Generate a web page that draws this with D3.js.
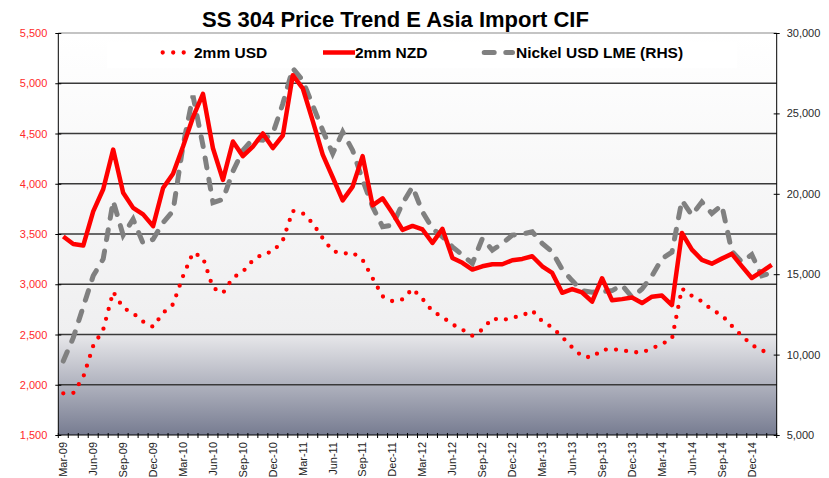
<!DOCTYPE html>
<html>
<head>
<meta charset="utf-8">
<script src="https://cdn.jsdelivr.net/npm/d3@7"></script>
<style>
  body { margin: 0; background: #fff; }
  svg { font-family: "Liberation Sans", Arial, sans-serif; }
  .axis path { display: none; }
</style>
</head>
<body>
<div class="chart"></div>
<script>
// categories (monthly, Mar-09 .. Feb-15)
const months = [
  'Mar-09','Apr-09','May-09','Jun-09','Jul-09','Aug-09','Sep-09','Oct-09','Nov-09','Dec-09',
  'Jan-10','Feb-10','Mar-10','Apr-10','May-10','Jun-10','Jul-10','Aug-10','Sep-10','Oct-10','Nov-10','Dec-10',
  'Jan-11','Feb-11','Mar-11','Apr-11','May-11','Jun-11','Jul-11','Aug-11','Sep-11','Oct-11','Nov-11','Dec-11',
  'Jan-12','Feb-12','Mar-12','Apr-12','May-12','Jun-12','Jul-12','Aug-12','Sep-12','Oct-12','Nov-12','Dec-12',
  'Jan-13','Feb-13','Mar-13','Apr-13','May-13','Jun-13','Jul-13','Aug-13','Sep-13','Oct-13','Nov-13','Dec-13',
  'Jan-14','Feb-14','Mar-14','Apr-14','May-14','Jun-14','Jul-14','Aug-14','Sep-14','Oct-14','Nov-14','Dec-14',
  'Jan-15','Feb-15'
]

// 2mm USD (left axis)
const usd = [
  1915, 1918, 2075, 2387, 2548, 2925, 2765, 2712, 2628, 2576,
  2715, 2800, 3080, 3315, 3265, 2965, 2912, 3065, 3125, 3238, 3302, 3325,
  3435, 3730, 3706, 3607, 3458, 3330, 3305, 3315, 3242, 3060, 2880, 2831,
  2850, 2955, 2854, 2731, 2674, 2601, 2548, 2488, 2548, 2661, 2641, 2668,
  2688, 2738, 2631, 2571, 2475, 2372, 2282, 2272, 2348, 2354, 2344, 2325,
  2321, 2361, 2407, 2454, 2957, 2885, 2830, 2745, 2692, 2586, 2487, 2397,
  2338, 2325
]

// 2mm NZD (left axis)
const nzd = [
  3475, 3400, 3385, 3725, 3945, 4340, 3910, 3760, 3695, 3578,
  3958, 4100, 4370, 4662, 4895, 4353, 4038, 4420, 4275, 4370, 4500, 4355,
  4480, 5080, 4950, 4625, 4290, 4065, 3835, 3972, 4275, 3785, 3855, 3706,
  3541, 3580, 3545, 3412, 3551, 3262, 3213, 3146, 3179, 3199, 3199, 3239,
  3252, 3279, 3179, 3113, 2915, 2952, 2918, 2827, 3060, 2840, 2852, 2868,
  2813, 2876, 2888, 2793, 3510, 3345, 3243, 3205, 3255, 3302, 3180, 3062,
  3125, 3192
]

// Nickel USD LME (right axis)
const nickel = [
  9600, 11050, 12980, 14900, 15950, 19550, 17430, 18420, 16920, 17170,
  18210, 18930, 23000, 26100, 23000, 19450, 19650, 21400, 22700, 23400, 23340, 23750,
  25600, 27800, 27050, 25500, 23950, 22500, 23850, 22700, 20850, 19200, 17950, 18050,
  19400, 20440, 18880, 17840, 17330, 16700, 16190, 15670, 17220, 16500, 16910, 17430,
  17490, 17640, 16910, 16390, 15300, 14600, 13980, 13880, 13920, 13980, 14320, 13570,
  14080, 14900, 15960, 16370, 19590, 18670, 19490, 18780, 19290, 16430, 15760, 16220,
  14900, 15100
]

const leftTicks = [1500, 2000, 2500, 3000, 3500, 4000, 4500, 5000, 5500]
const rightTicks = [5000, 10000, 15000, 20000, 25000, 30000]
const labelMonths = months.filter((d, i) => i % 3 === 0)

const width = 829
const height = 478
const margins = { top: 33, right: 52.3, bottom: 43, left: 58.3 }

const svg = d3.select('.chart')
  .append('svg')
  .attr('width', width)
  .attr('height', height)

const x = d3.scaleBand()
  .domain(months)
  .range([margins.left, width - margins.right])

const yL = d3.scaleLinear()
  .domain([1500, 5500])
  .range([height - margins.bottom, margins.top])

const yR = d3.scaleLinear()
  .domain([5000, 30000])
  .range([height - margins.bottom, margins.top])

const x0 = margins.left
const x1 = width - margins.right
const cx = (d) => x(d) + x.bandwidth() / 2

// background gradient
const defs = svg.append('defs')
const grad = defs.append('linearGradient')
  .attr('id', 'bg')
  .attr('x1', 0).attr('y1', 0).attr('x2', 0).attr('y2', 1)
const split = (yL(2500) - yL(5500)) / (yL(1500) - yL(5500))
grad.append('stop').attr('offset', 0).attr('stop-color', '#ffffff')
grad.append('stop').attr('offset', split).attr('stop-color', '#efeff0')
grad.append('stop').attr('offset', split + 0.002).attr('stop-color', '#e7e7ea')
grad.append('stop').attr('offset', 1).attr('stop-color', '#777c91')

svg.append('rect')
  .attr('x', x0)
  .attr('y', yL(5500))
  .attr('width', x1 - x0)
  .attr('height', yL(1500) - yL(5500))
  .attr('fill', 'url(#bg)')

// legend backdrop
svg.append('rect')
  .attr('x', 107).attr('y', 42)
  .attr('width', 630).attr('height', 26)
  .attr('fill', '#ffffff')

// gridlines
svg.append('g')
  .selectAll('line')
  .data(leftTicks.slice(1, -1))
  .join('line')
  .attr('x1', x0).attr('x2', x1)
  .attr('y1', d => yL(d)).attr('y2', d => yL(d))
  .attr('stroke', '#3a3a3a')
  .attr('stroke-width', 1.3)

svg.append('line')
  .attr('x1', x0).attr('x2', x1)
  .attr('y1', yL(5500)).attr('y2', yL(5500))
  .attr('stroke', '#b0b0b0')
  .attr('stroke-width', 1.3)

// left axis
svg.append('g')
  .attr('class', 'axis axis__left')
  .attr('transform', `translate(${x0}, 0)`)
  .call(
    d3.axisLeft(yL)
      .tickValues(leftTicks)
      .tickSize(3)
      .tickPadding(8)
      .tickFormat(d3.format(','))
  )
  .call(g => g.selectAll('line').attr('x2', -3).attr('x1', 3).attr('stroke', '#000'))
  .call(g => g.selectAll('text').attr('fill', '#ff2b2b').style('font-size', '11px'))

// right axis
svg.append('g')
  .attr('class', 'axis axis__right')
  .attr('transform', `translate(${x1}, 0)`)
  .call(
    d3.axisRight(yR)
      .tickValues(rightTicks)
      .tickSize(3)
      .tickPadding(7)
      .tickFormat(d3.format(','))
  )
  .call(g => g.selectAll('line').attr('x1', -3).attr('x2', 3).attr('stroke', '#000'))
  .call(g => g.selectAll('text').attr('fill', '#2a2a2a').style('font-size', '11px'))

// axis lines
svg.append('line')
  .attr('x1', x0).attr('x2', x0)
  .attr('y1', yL(5500)).attr('y2', yL(1500))
  .attr('stroke', '#000')
svg.append('line')
  .attr('x1', x1).attr('x2', x1)
  .attr('y1', yL(5500)).attr('y2', yL(1500))
  .attr('stroke', '#000')
svg.append('line')
  .attr('x1', x0).attr('x2', x1)
  .attr('y1', yL(1500)).attr('y2', yL(1500))
  .attr('stroke', '#000')

// month tick marks at category boundaries
svg.append('g')
  .selectAll('line')
  .data(months.map(d => x(d)).concat([x1]))
  .join('line')
  .attr('x1', d => d).attr('x2', d => d)
  .attr('y1', yL(1500) - 2).attr('y2', yL(1500) + 3)
  .attr('stroke', '#000')

// month labels
svg.append('g')
  .attr('class', 'axis axis__x')
  .attr('transform', `translate(0, ${yL(1500)})`)
  .call(
    d3.axisBottom(x)
      .tickValues(labelMonths)
      .tickSize(0)
  )
  .call(g => g.selectAll('text')
    .attr('transform', 'rotate(-90)')
    .attr('text-anchor', 'end')
    .attr('x', -7)
    .attr('y', 0)
    .attr('dy', '0.35em')
    .attr('fill', '#222')
    .style('font-size', '11px'))

// lines
const lineL = (vals) => d3.line()
  .x((d, i) => cx(months[i]))
  .y(d => yL(d))(vals)

const lineR = d3.line()
  .x((d, i) => cx(months[i]))
  .y(d => yR(d))

svg.append('path')
  .attr('d', lineR(nickel))
  .attr('fill', 'none')
  .attr('stroke', '#808080')
  .attr('stroke-width', 5)
  .attr('stroke-linecap', 'round')
  .attr('stroke-dasharray', '10,11.6')

svg.append('path')
  .attr('d', lineL(usd))
  .attr('fill', 'none')
  .attr('stroke', '#ff0000')
  .attr('stroke-width', 4.3)
  .attr('stroke-linecap', 'round')
  .attr('stroke-dasharray', '0,10.2')

svg.append('path')
  .attr('d', lineL(nzd))
  .attr('fill', 'none')
  .attr('stroke', '#ff0000')
  .attr('stroke-width', 4.5)
  .attr('stroke-linejoin', 'round')

// legend
const legend = svg.append('g').style('font-size', '15.5px').style('font-weight', 'bold')
const legY = 52.5

legend.append('line')
  .attr('x1', 162.7).attr('x2', 184)
  .attr('y1', legY).attr('y2', legY)
  .attr('stroke', '#ff0000')
  .attr('stroke-width', 4.3)
  .attr('stroke-linecap', 'round')
  .attr('stroke-dasharray', '0,10.5')
legend.append('text').attr('x', 194).attr('y', 58).text('2mm USD')

legend.append('line')
  .attr('x1', 323).attr('x2', 355)
  .attr('y1', legY).attr('y2', legY)
  .attr('stroke', '#ff0000')
  .attr('stroke-width', 4.5)
legend.append('text').attr('x', 355).attr('y', 58).text('2mm NZD')

legend.append('line')
  .attr('x1', 484.2).attr('x2', 512.5)
  .attr('y1', legY).attr('y2', legY)
  .attr('stroke', '#808080')
  .attr('stroke-width', 5)
  .attr('stroke-linecap', 'round')
  .attr('stroke-dasharray', '10,11.6')
legend.append('text').attr('x', 516).attr('y', 58).text('Nickel USD LME (RHS)')

// title
svg.append('text')
  .attr('x', 395.5)
  .attr('y', 27)
  .attr('text-anchor', 'middle')
  .style('font-size', '22px')
  .style('font-weight', 'bold')
  .text('SS 304 Price Trend E Asia Import CIF')
</script>
</body>
</html>
